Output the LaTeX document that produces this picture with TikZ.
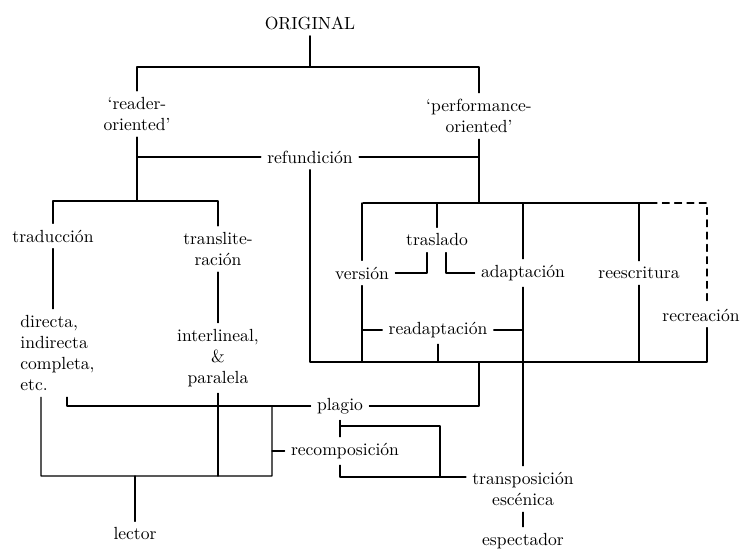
\documentclass[tikz,border=0pt]{standalone}
\begin{document}
\begin{tikzpicture}[x=0.02cm,y=-0.02cm,line join=round,line cap=round,semithick]
\tikzset{two/.style={align=center},lft/.style={align=left,anchor=west}}
\useasboundingbox (0,0) rectangle (741,550);
% nodes
\node (orig) at (310,23) {ORIGINAL};
\node[two] (reader) at (137,114) {`reader-\\oriented'};
\node[two] (perf) at (479,116) {`performance-\\oriented'};
\node (refu) at (310,157) {refundición};
\node (trad) at (53,236) {traducción};
\node[two] (transl) at (218,249) {translite-\\ración};
\node[lft] (direc) at (14,353) {directa,\\indirecta\\completa,\\etc.};
\node[two] (inter) at (218,358) {interlineal,\\\&\\paralela};
\node (trasl) at (437,240) {traslado};
\node (vers) at (362,273) {versión};
\node (adap) at (523,273) {adaptación};
\node (rees) at (639,273) {reescritura};
\node (recre) at (701,315) {recreación};
\node (readap) at (438,330) {readaptación};
\node (plag) at (340,406) {plagio};
\node (recomp) at (345,451) {recomposición};
\node[two] (transp) at (523,489) {transposición\\escénica};
\node (lector) at (135,534) {lector};
\node (espec) at (523,541) {espectador};
% junctions
\coordinate (top) at (310,67);
\coordinate (lsplit) at (137,201);
\coordinate (ftl) at (363,203);
\coordinate (ftr) at (707,203);
\coordinate (fbl) at (310,362);
\coordinate (fbr) at (707,362);
\coordinate (lbl) at (41,476);
\coordinate (lbr) at (272,476);
\coordinate (pbr) at (440,426);
\coordinate (rjoin) at (440,477);
% upper tree
\draw (orig) -- (top);
\draw (reader) |- (top) -| (perf);
\draw (reader) -- (lsplit);
\draw (trad) |- (lsplit) -| (transl);
\draw (refu) -- (refu -| reader);
\draw (refu) -- (refu -| perf);
\draw (trad) -- (trad |- direc.north);
\draw (transl) -- (inter);
% frame
\draw (perf) -- (perf |- ftl);
\draw (refu) -- (fbl) -- (fbr) -- (recre.south -| fbr);
\draw (ftl) -- (650,203);
\draw[dash pattern=on 4pt off 3pt] (650,203) -- (ftr) -- (recre.north -| ftr);
\foreach \n in {vers,adap,rees}{\draw (\n) -- (\n |- ftl);}
\foreach \n in {vers,rees}{\draw (\n) -- (\n |- fbl);}
\draw (trasl) -- (trasl |- ftl);
\draw ([xshift=-0.2cm]trasl.south) |- (vers);
\draw ([xshift=0.18cm]trasl.south) |- (adap);
\draw (readap) -- (readap -| vers);
\draw (readap) -- (readap -| adap);
\draw (readap) -- (readap |- fbl);
\draw (adap) -- (transp);
% lower part
\draw (plag) -| ([xshift=1.06cm]direc.south west);
\draw (plag) -| (perf |- fbl);
\draw ([xshift=0.54cm]direc.south west) -- (lbl) -- (lbr) -- (lbr |- plag);
\draw (inter) -- (inter |- lbl);
\draw (lector) -- (lector |- lbl);
\draw (recomp) -- (recomp -| lbr);
\draw (plag.south) -- (plag.south |- recomp.north);
\draw (plag.south |- pbr) -- (pbr) -- (rjoin);
\draw (recomp.south -| plag.south) |- (rjoin) -- (rjoin -| transp.west);
\draw (transp) -- (espec);
\end{tikzpicture}
\end{document}
